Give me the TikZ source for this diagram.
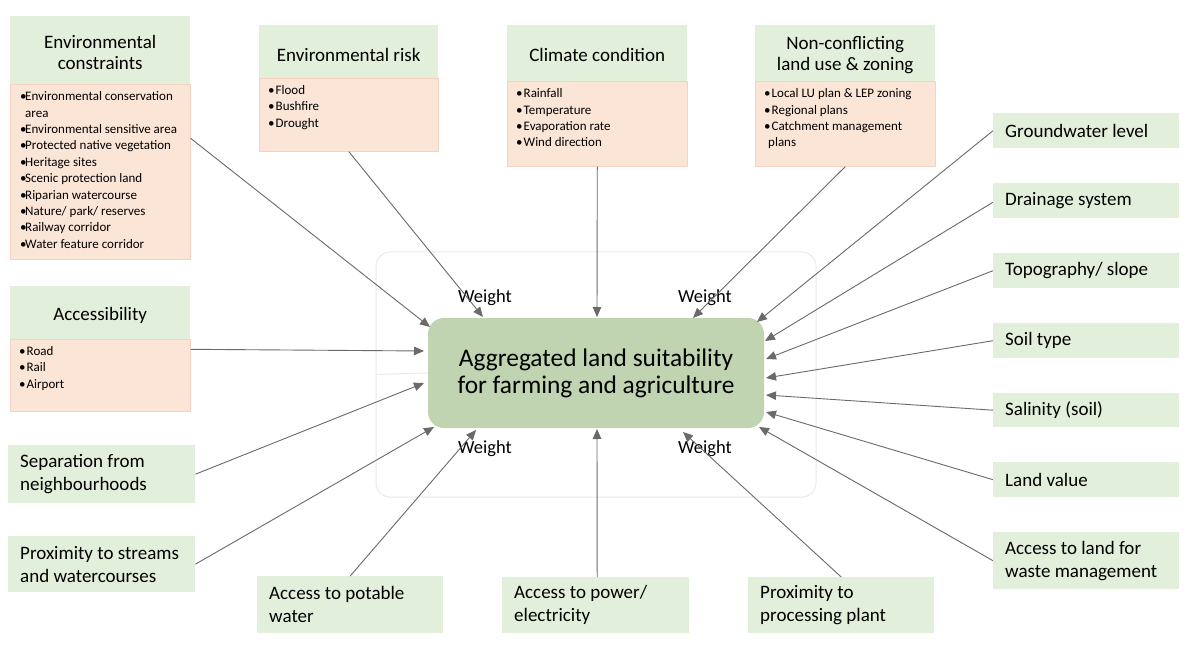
\documentclass[tikz,border=0pt]{standalone}
\usepackage{fontspec}
\setmainfont{Carlito}
\usetikzlibrary{arrows.meta}
\definecolor{hdr}{HTML}{E2EFDA}
\definecolor{bdy}{HTML}{FBE5D6}
\definecolor{bdyline}{HTML}{F6D2C2}
\definecolor{core}{HTML}{C0D4B1}
\definecolor{arr}{HTML}{6A6A6A}
\definecolor{faint}{HTML}{EBEBEB}
\newcommand{\bl}{\makebox[7.5pt][l]{•}}
\newcommand{\blt}{\makebox[5pt][l]{•}}
\begin{document}
\begin{tikzpicture}[x=1pt,y=-1pt,
  hdrbox/.style={fill=hdr, inner sep=0pt, anchor=north west},
  hdrtext/.style={inner sep=0pt, font=\fontsize{19}{21.5}\selectfont, align=center},
  bodybox/.style={fill=bdy, draw=bdyline, line width=0.6pt, inner sep=0pt, anchor=north west},
  bodytext/.style={inner sep=0pt, anchor=north west, align=left, font=\fontsize{13}{16.4}\selectfont},
  leafbox/.style={fill=hdr, inner xsep=12pt, inner ysep=0pt, anchor=north west, align=flush left, font=\fontsize{19}{23}\selectfont},
  weightlbl/.style={inner sep=0pt, font=\fontsize{18.5}{22}\selectfont},
  conn/.style={draw=arr, line width=0.9pt, -{Triangle[length=10pt,width=8.5pt]}},
  faintline/.style={draw=faint, line width=1pt}
]
\useasboundingbox (0,0) rectangle (1200,655);
\fill[white] (0,0) rectangle (1200,655);

% faint background frame
\node[faintline, rounded corners=14pt, minimum width=440pt, minimum height=245pt, inner sep=0pt] (bg) at (596,374.5) {};

% central node
\node[fill=core, rounded corners=16pt, minimum width=336pt, minimum height=110pt, inner sep=0pt, align=center,
      font=\fontsize{25.4}{27}\selectfont] (agg) at (596,373) {Aggregated land suitability\\for farming and agriculture};
\draw[faintline] (bg.west) -- (agg.west);

% Environmental constraints
\node[hdrbox, minimum width=180pt, minimum height=68pt] (ech) at (10,16) {};
\node[hdrtext] (echt) at ([yshift=-2.5pt]ech.center) {Environmental\\constraints};
\node[bodybox, minimum width=180pt, minimum height=175pt] (ecb) at (10,84) {};
\node[bodytext] (ect) at ([shift={(10,7.5)}]ecb.north west) {\blt Environmental conservation\\\hspace*{5pt}area\\\blt Environmental sensitive area\\\blt Protected native vegetation\\\blt Heritage sites\\\blt Scenic protection land\\\blt Riparian watercourse\\\blt Nature/ park/ reserves\\\blt Railway corridor\\\blt Water feature corridor};

% Environmental risk
\node[hdrbox, minimum width=179pt, minimum height=53pt] (erh) at (259,25) {};
\node[hdrtext] (erht) at ([yshift=-3pt]erh.center) {Environmental risk};
\node[bodybox, minimum width=179pt, minimum height=73pt] (erb) at (259,78) {};
\node[bodytext] (ert) at ([shift={(9,7)}]erb.north west) {\bl Flood\\\bl Bushfire\\\bl Drought};

% Climate condition
\node[hdrbox, minimum width=180pt, minimum height=56pt] (clh) at (507,25) {};
\node[hdrtext] (clht) at ([yshift=-1.5pt]clh.center) {Climate condition};
\node[bodybox, minimum width=180pt, minimum height=85pt] (clb) at (507,81) {};
\node[bodytext] (clt) at ([shift={(9,7.5)}]clb.north west) {\bl Rainfall\\\bl Temperature\\\bl Evaporation rate\\\bl Wind direction};

% Non-conflicting land use
\node[hdrbox, minimum width=180pt, minimum height=56pt] (nch) at (755,25) {};
\node[hdrtext] (ncht) at ([yshift=-2pt]nch.center) {Non-conflicting\\land use \& zoning};
\node[bodybox, minimum width=180pt, minimum height=85pt] (ncb) at (755,81) {};
\node[bodytext] (nct) at ([shift={(9,7.5)}]ncb.north west) {\bl Local LU plan \& LEP zoning\\\bl Regional plans\\\bl Catchment management\\\hspace*{4pt}plans};

% Accessibility
\node[hdrbox, minimum width=180pt, minimum height=53pt] (ach) at (10,286) {};
\node[hdrtext] (acht) at ([yshift=-3pt]ach.center) {Accessibility};
\node[bodybox, minimum width=180pt, minimum height=72pt] (acb) at (10,339) {};
\node[bodytext] (act) at ([shift={(9,7)}]acb.north west) {\bl Road\\\bl Rail\\\bl Airport};

% right column
\node[leafbox, text width=162pt, minimum height=35pt] (gw) at (993,113) {Groundwater level};
\node[leafbox, text width=162pt, minimum height=35pt] (dr) at (993,183) {Drainage system};
\node[leafbox, text width=162pt, minimum height=35pt] (tp) at (993,253) {Topography/ slope};
\node[leafbox, text width=162pt, minimum height=35pt] (so) at (993,323) {Soil type};
\node[leafbox, text width=162pt, minimum height=34pt] (sa) at (993,393) {Salinity (soil)};
\node[leafbox, text width=162pt, minimum height=35pt] (lv) at (993,462) {Land value};
\node[leafbox, text width=162pt, minimum height=57pt] (wa) at (993,532) {Access to land for\\waste management};

% bottom and left
\node[leafbox, text width=163pt, minimum height=58pt] (sep) at (8,445) {Separation from\\neighbourhoods};
\node[leafbox, text width=163pt, minimum height=56pt] (str) at (8,536) {Proximity to streams\\and watercourses};
\node[leafbox, text width=162pt, minimum height=57pt] (pot) at (257,576) {Access to potable\\water};
\node[leafbox, text width=163pt, minimum height=56pt] (pow) at (502,577) {Access to power/\\electricity};
\node[leafbox, text width=162pt, minimum height=56pt] (proc) at (748,577) {Proximity to\\processing plant};

% weight labels
\node[weightlbl] (w1) at (485,297.5) {Weight};
\node[weightlbl] (w2) at (705,297.5) {Weight};
\node[weightlbl] (w3) at (485,448.5) {Weight};
\node[weightlbl] (w4) at (705,448.5) {Weight};

% connectors
\draw[conn] ([shift={(0,-33.5)}]ecb.east) -- ([shift={(-166,-46)}]agg.center);
\draw[conn] (erb.south) -- ([shift={(-113,-56)}]agg.center);
\draw[conn] (clb.south) -- ([shift={(1,-56)}]agg.center);
\draw[conn] (ncb.south) -- ([shift={(97,-55)}]agg.center);
\draw[conn] (gw.west) -- ([shift={(161,-51)}]agg.center);
\draw[conn] ([shift={(0,1.5)}]dr.west) -- ([shift={(169,-32)}]agg.center);
\draw[conn] (tp.west) -- ([shift={(170,-14)}]agg.center);
\draw[conn] (so.west) -- ([shift={(170,5)}]agg.center);
\draw[conn] (sa.west) -- ([shift={(170,22)}]agg.center);
\draw[conn] (lv.west) -- ([shift={(170,39)}]agg.center);
\draw[conn] (wa.west) -- ([shift={(163,54)}]agg.center);
\draw[conn] (proc.north) -- ([shift={(87,59)}]agg.center);
\draw[conn] ([shift={(1.5,0)}]pow.north) -- ([shift={(1,56)}]agg.center);
\draw[conn] (pot.north) -- ([shift={(-120,57)}]agg.center);
\draw[conn] (str.east) -- ([shift={(-162,54)}]agg.center);
\draw[conn] (sep.east) -- ([shift={(-172,10)}]agg.center);
\draw[conn] ([shift={(0,-26)}]acb.east) -- ([shift={(-172,-22)}]agg.center);
\end{tikzpicture}
\end{document}
